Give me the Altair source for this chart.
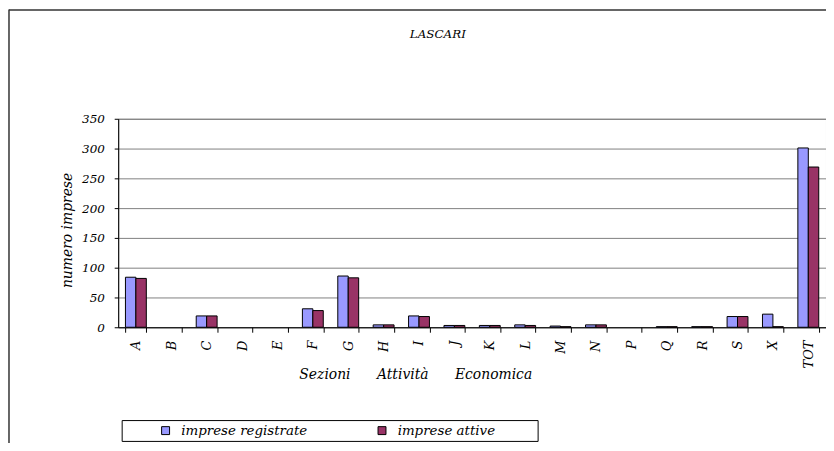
import altair as alt
import pandas as pd

categories = ["A", "B", "C", "D", "E", "F", "G", "H", "I", "J",
              "K", "L", "M", "N", "P", "Q", "R", "S", "X", "TOT"]
registrate = [84, 0, 19, 0, 0, 31, 86, 4, 19, 3, 3, 4, 2, 4, 0, 1, 1, 18, 22, 301]
attive = [82, 0, 19, 0, 0, 28, 83, 4, 18, 3, 3, 3, 1, 4, 0, 1, 1, 18, 1, 269]
series = ["imprese registrate", "imprese attive"]
colors = ["#9999FF", "#993366"]
y_ticks = [0, 50, 100, 150, 200, 250, 300, 350]
chart_title = "LASCARI"

rows = []
for c, r, a in zip(categories, registrate, attive):
    rows.append({"sezione": c, "serie": series[0], "valore": r})
    rows.append({"sezione": c, "serie": series[1], "valore": a})
df = pd.DataFrame(rows)

W, H = 713, 210
FONT = "DejaVu Serif"
sp = "\u00a0" * 6

bars = alt.Chart(df).transform_filter("datum.valore > 0").mark_bar(
    stroke="black", strokeWidth=1).encode(
    x=alt.X("sezione:N", sort=categories,
            scale=alt.Scale(domain=categories, paddingInner=0.41, paddingOuter=0.205),
            axis=alt.Axis(title=f"Sezioni{sp}Attività{sp}Economica",
                          labelAngle=-90, tickBand="extent", tickSize=5,
                          tickColor="black", domainColor="black",
                          labelFont=FONT, labelFontSize=13, labelFontStyle="italic",
                          labelColor="black", labelPadding=8,
                          titleFont=FONT, titleFontSize=14, titleFontStyle="italic",
                          titleFontWeight="normal", titleColor="black",
                          titleX=182, titleY=52, titleAlign="left",
                          titleBaseline="alphabetic", grid=False)),
    xOffset=alt.XOffset("serie:N", sort=series,
                        scale=alt.Scale(domain=series, paddingInner=0, paddingOuter=0)),
    y=alt.Y("valore:Q", scale=alt.Scale(domain=[0, 350], nice=False),
            axis=alt.Axis(values=y_ticks, title="numero imprese",
                          grid=True, gridColor="#808080", gridWidth=1,
                          domainColor="black", tickColor="black", tickSize=4,
                          labelFont=FONT, labelFontSize=12, labelFontStyle="italic",
                          labelColor="black", labelPadding=10,
                          titleFont=FONT, titleFontSize=14, titleFontStyle="italic",
                          titleFontWeight="normal", titleColor="black",
                          titleX=-44, titleY=112, titleAngle=-90,
                          titleAlign="center", titleBaseline="bottom")),
    color=alt.Color("serie:N", sort=series,
                    scale=alt.Scale(domain=series, range=colors),
                    legend=alt.Legend(orient="none", legendX=41, legendY=307,
                                      direction="horizontal", title=None,
                                      symbolType="square", symbolSize=64,
                                      symbolStrokeColor="black", symbolStrokeWidth=1,
                                      symbolOpacity=1,
                                      labelFont=FONT, labelFontSize=13.5,
                                      labelFontStyle="italic", labelColor="black",
                                      labelOffset=9, columnPadding=68, padding=0)),
)

one = pd.DataFrame({"t": [chart_title]})
legend_box = alt.Chart(one).mark_rect(fill="white", stroke="black", strokeWidth=1).encode(
    x=alt.value(4), x2=alt.value(423), y=alt.value(304), y2=alt.value(325))

frame_top = alt.Chart(one).mark_rule(color="#333333", strokeWidth=1.5).encode(
    x=alt.value(-110), x2=alt.value(W + 10), y=alt.value(-109.5))
frame_left = alt.Chart(one).mark_rule(color="#333333", strokeWidth=1.5).encode(
    x=alt.value(-110), y=alt.value(-110), y2=alt.value(H + 130))

title_text = alt.Chart(one).mark_text(font=FONT, fontSize=12, fontStyle="italic",
                                      color="black", align="center",
                                      baseline="alphabetic").encode(
    text="t:N", x=alt.value(322), y=alt.value(-81))

chart = alt.layer(frame_top, frame_left, legend_box, title_text, bars).properties(
    width=W, height=H,
    autosize=alt.AutoSizeParams(type="none"),
    padding={"left": 111, "top": 110, "right": 0, "bottom": 115},
).configure_view(stroke="#808080", strokeWidth=1)

chart.save("out.html", embed_options={"renderer": "svg", "actions": False})
